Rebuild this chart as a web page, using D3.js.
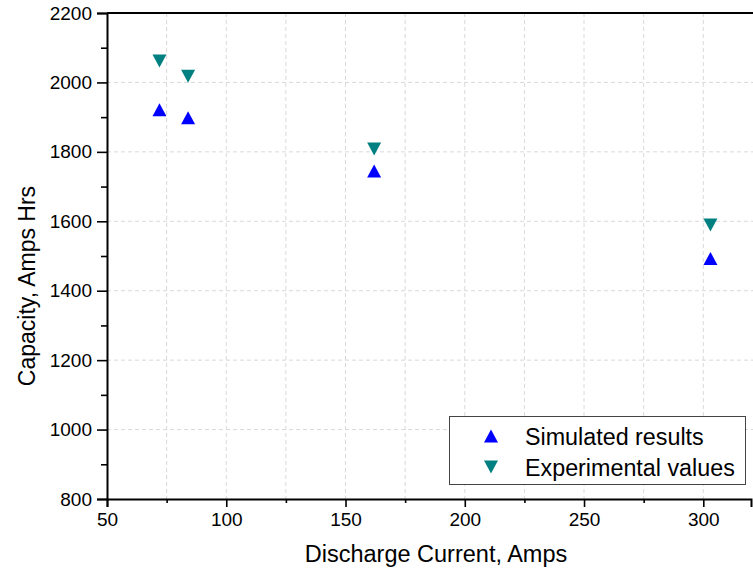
<!DOCTYPE html>
<html>
<head>
<meta charset="utf-8">
<script src="https://cdn.jsdelivr.net/npm/d3@7"></script>
<style>
  body { margin: 0; background: #fff; }
  svg { display: block; font-family: "Liberation Sans", Arial, sans-serif; }
</style>
</head>
<body>
<svg id="chart"></svg>
<script>
// ---------------- data ----------------
var current = [72, 84, 162, 303];                 // Discharge Current, Amps
var simulated = [1921, 1898, 1745, 1493];         // Simulated results
var experimental = [2062, 2018, 1808, 1589];      // Experimental values
var xTicks = [50, 100, 150, 200, 250, 300];
var yTicks = [800, 1000, 1200, 1400, 1600, 1800, 2000, 2200];

var width = 753, height = 577;
var plotL = 107, plotR = 751, plotT = 13, plotB = 499;

var svg = d3.select("#chart").attr("width", width).attr("height", height);

var xs = d3.scaleLinear().domain([50, 320]).range([plotL, plotR]);
var ys = d3.scaleLinear().domain([800, 2200]).range([plotB, plotT]);

// ---------------- grid ----------------
var grid = svg.append("g").attr("stroke", "#d9d9d9").attr("stroke-dasharray", "4,3").attr("stroke-width", 1);
grid.selectAll("line.gx")
  .data(d3.range(75, 321, 25))
  .enter().append("line")
  .attr("x1", d => xs(d)).attr("x2", d => xs(d))
  .attr("y1", plotT).attr("y2", plotB);
grid.selectAll("line.gy")
  .data(yTicks.slice(1, -1))
  .enter().append("line")
  .attr("x1", plotL).attr("x2", width)
  .attr("y1", d => ys(d)).attr("y2", d => ys(d));

// ---------------- legend box (covers grid) ----------------
var legend = svg.append("g");
legend.append("rect")
  .attr("x", 449.5).attr("y", 416.5).attr("width", 296).attr("height", 68)
  .attr("fill", "#fff").attr("stroke", "#444").attr("stroke-width", 1);

// ---------------- axes ----------------
var xAxis = svg.append("g").attr("transform", "translate(0," + plotB + ")")
  .call(d3.axisBottom(xs).tickValues(xTicks).tickSize(8).tickPadding(6).tickFormat(d3.format("d")));
var xMinor = svg.append("g").attr("transform", "translate(0," + plotB + ")")
  .call(d3.axisBottom(xs).tickValues(d3.range(75, 321, 50)).tickSize(4).tickFormat(""));
var yAxis = svg.append("g").attr("transform", "translate(" + plotL + ",0)")
  .call(d3.axisLeft(ys).tickValues(yTicks).tickSize(10).tickPadding(5).tickFormat(d3.format("d")));
var yMinor = svg.append("g").attr("transform", "translate(" + plotL + ",0)")
  .call(d3.axisLeft(ys).tickValues(d3.range(900, 2200, 200)).tickSize(6).tickFormat(""));

[xAxis, xMinor, yAxis, yMinor].forEach(function(g) {
  g.attr("font-size", 19).attr("font-family", "Liberation Sans, Arial, sans-serif");
  g.select(".domain").attr("stroke", "#000").attr("stroke-width", 2);
  g.selectAll(".tick line").attr("stroke", "#000").attr("stroke-width", 1.6);
  g.selectAll(".tick text").attr("fill", "#000");
});
xMinor.select(".domain").remove();
yMinor.select(".domain").remove();

// top border
svg.append("line").attr("x1", plotL).attr("x2", width).attr("y1", plotT).attr("y2", plotT)
  .attr("stroke", "#000").attr("stroke-width", 2);

// ---------------- markers ----------------
function tri(cx, cy, up) {
  var w = 7, h = 6.5;
  if (up) return "M" + cx + "," + (cy - h) + "L" + (cx + w) + "," + (cy + h) + "L" + (cx - w) + "," + (cy + h) + "Z";
  return "M" + cx + "," + (cy + h) + "L" + (cx + w) + "," + (cy - h) + "L" + (cx - w) + "," + (cy - h) + "Z";
}

svg.append("g").selectAll("path")
  .data(current)
  .enter().append("path")
  .attr("d", (d, i) => tri(xs(d), ys(experimental[i]), false))
  .attr("fill", "#008080");

svg.append("g").selectAll("path")
  .data(current)
  .enter().append("path")
  .attr("d", (d, i) => tri(xs(d), ys(simulated[i]), true))
  .attr("fill", "#0000ff");

// ---------------- legend content ----------------
legend.append("path").attr("d", tri(491, 436, true)).attr("fill", "#0000ff");
legend.append("path").attr("d", tri(491, 467, false)).attr("fill", "#008080");
legend.append("text").attr("x", 525).attr("y", 445).attr("font-size", 23.3).text("Simulated results");
legend.append("text").attr("x", 525).attr("y", 476).attr("font-size", 23.3).text("Experimental values");

// ---------------- titles ----------------
svg.append("text").attr("x", 436).attr("y", 562).attr("text-anchor", "middle")
  .attr("font-size", 23.5).text("Discharge Current, Amps");
svg.append("text").attr("transform", "translate(35,286) rotate(-90)").attr("text-anchor", "middle")
  .attr("font-size", 23).text("Capacity, Amps Hrs");
</script>
</body>
</html>
